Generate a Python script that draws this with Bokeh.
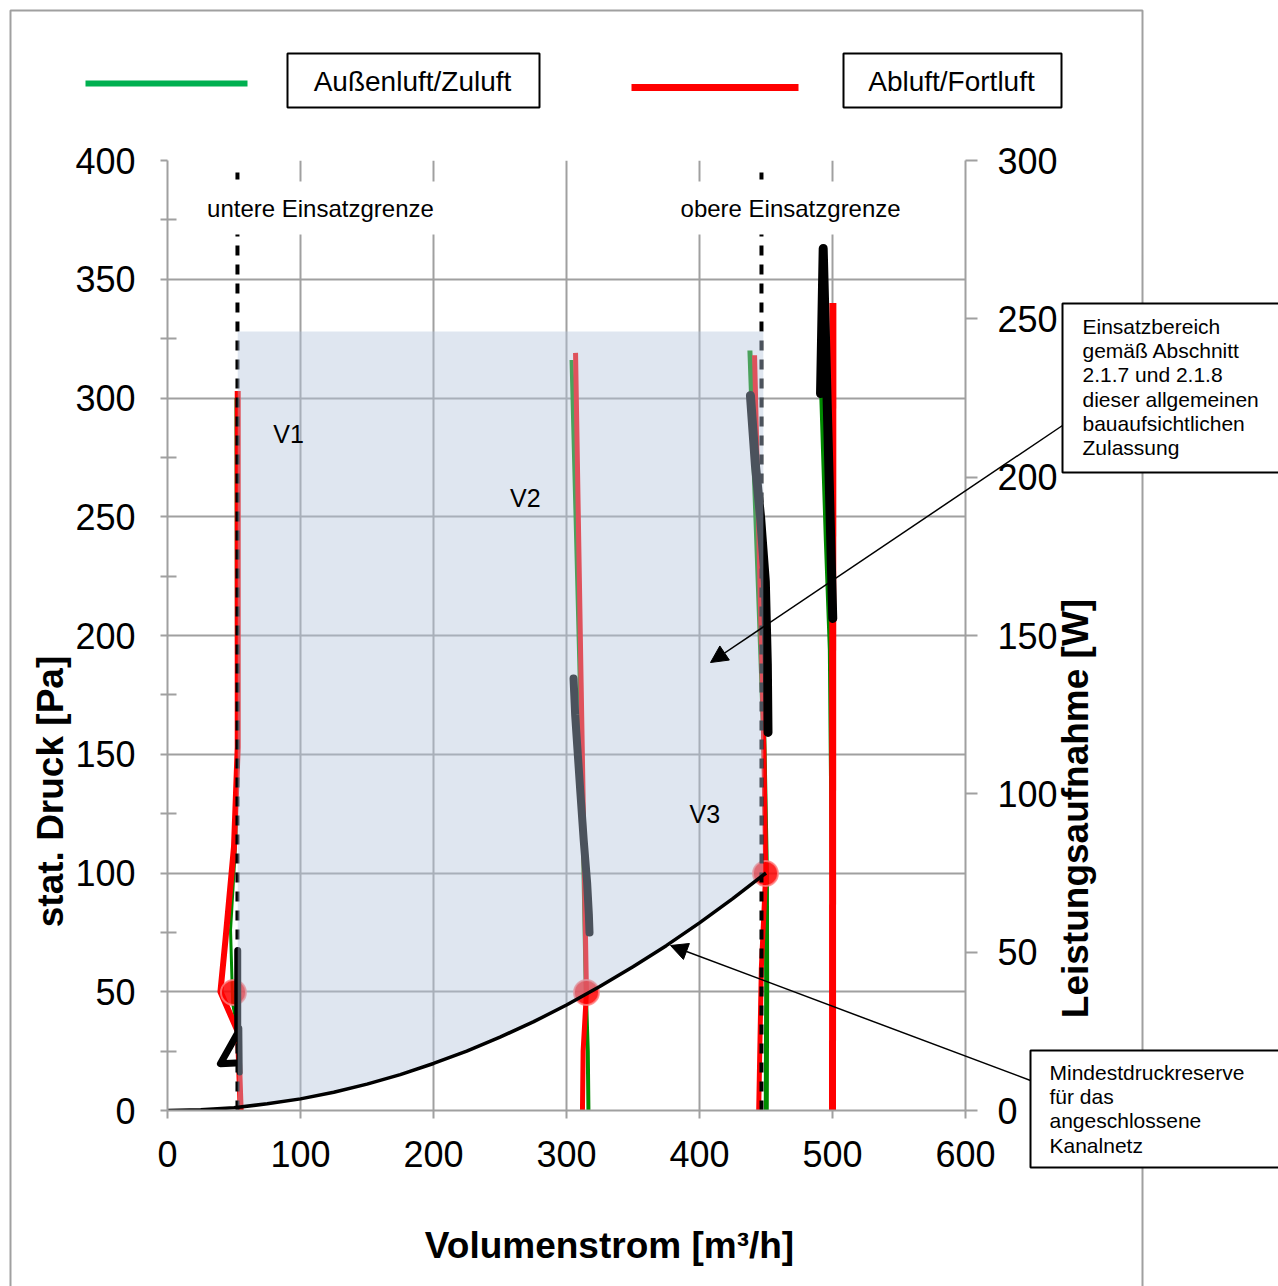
import numpy as np
from bokeh.plotting import figure
from bokeh.models import (Range1d, LinearAxis, FixedTicker, Label, Arrow,
                          NormalHead, GridBox, Column)
from bokeh.embed import file_html
from bokeh.resources import INLINE

# ---------------- data ----------------
x_ticks = [0, 100, 200, 300, 400, 500, 600]
p_ticks = [0, 50, 100, 150, 200, 250, 300, 350, 400]
p_minor = [25, 75, 125, 175, 225, 275, 325, 375]
w_ticks = [0, 50, 100, 150, 200, 250, 300]

# Mindestdruckreserve (system curve)
curve_x = [0, 25, 50, 75, 100, 125, 150, 175, 200, 225, 250, 275, 300,
           325, 350, 375, 400, 425, 450]
curve_y = [0, 0.3, 1.2, 2.8, 4.9, 7.7, 11.1, 15.1, 19.8, 25.0, 30.9, 37.3,
           44.4, 52.2, 60.5, 69.4, 79.0, 89.2, 100.0]

# Einsatzgrenzen
lower_limit = 52.6
upper_limit = 446.6
limit_top = 395
area_left, area_right, area_top = 52.8, 448.0, 328

# Außenluft/Zuluft (green), pressure [Pa]
v1_zu_x = [51.5, 52.0, 51.5, 47.4, 49.0, 52.3, 55.6]
v1_zu_y = [300, 150, 115, 76, 45, 35, 0]
v2_zu_x = [303.8, 310.0, 314.5, 316.0, 316.5]
v2_zu_y = [316, 180, 50, 25, 0]
v3_zu_x = [437.9, 448.4, 450.3, 450.5, 450.2]
v3_zu_y = [320, 156, 100, 50, 0]
v4_zu_x = [491.5, 495.0, 498.0, 499.5, 500.0]
v4_zu_y = [302, 240, 194, 100, 0]

# Abluft/Fortluft (red), pressure [Pa]
v1_ab_x = [52.8, 52.8, 50.0, 43.6, 39.8, 53.0, 55.0]
v1_ab_y = [303, 153, 111, 72, 50, 33, 0]
v2_ab_x = [306.8, 311.0, 315.0, 312.5, 312.0]
v2_ab_y = [319, 180, 50, 25, 0]
v3_ab_x = [441.4, 448.4, 449.8, 446.5, 445.5, 444.5]
v3_ab_y = [318, 152, 100, 60, 30, 0]
v4_ab_x = [500.3, 500.0]
v4_ab_y = [340, 0]

# Leistungsaufnahme [W] (black)
v1_w_x = [52.8, 52.8, 39.8, 51.3]
v1_w_y = [50.5, 24.5, 14.8, 15.0]
v1_w2_x = [54.0, 54.3]
v1_w2_y = [26.0, 12.0]
v2_w_x = [305.3, 306.5, 308.3, 310.5, 313.0, 315.5, 316.8, 317.3]
v2_w_y = [136.4, 125.0, 113.7, 100.0, 85.0, 72.0, 62.0, 56.2]
v3_w_x = [438.3, 442.0, 446.0, 449.5, 451.0, 451.5]
v3_w_y = [225.8, 204.0, 187.0, 167.0, 141.0, 119.4]
v4_w_x = [491.0, 493.0, 500.2]
v4_w_y = [226.4, 272.2, 155.4]

# Betriebspunkte
dot_x = [49.6, 315.0, 449.6]
dot_y = [49.7, 49.7, 99.8]

# ---------------- page layout (pixels) ----------------
W, H = 1278, 1286
FL, FR, FT, FB = 167, 965, 160, 1110

FONT = "Liberation Sans"
GRID = "#a0a0a0"

p = figure(width=W, height=H, x_range=Range1d(0, 600),
           y_range=Range1d(0, 400), output_backend="svg",
           toolbar_location=None, min_border_left=FL,
           min_border_right=W - FR, min_border_top=FT,
           min_border_bottom=H - FB)
p.outline_line_color = None
p.background_fill_color = "white"
p.border_fill_color = "white"
p.extra_y_ranges = {"power": Range1d(0, 300)}

ax_r = LinearAxis(y_range_name="power", ticker=FixedTicker(ticks=w_ticks))
p.add_layout(ax_r, "right")

ax_b = p.below[0]
ax_l = p.left[0]
ax_b.ticker = FixedTicker(ticks=x_ticks)
ax_l.ticker = FixedTicker(ticks=p_ticks, minor_ticks=p_minor)

for ax in (ax_b, ax_l, ax_r):
    ax.axis_line_color = GRID
    ax.axis_line_width = 2
    ax.major_tick_line_color = GRID
    ax.major_tick_line_width = 2
    ax.major_tick_in = 0
    ax.major_label_text_font = FONT
    ax.major_label_text_font_size = "36px"
    ax.major_label_text_color = "black"
    ax.minor_tick_line_color = None

ax_b.major_tick_out = 8
ax_b.major_label_standoff = 22
ax_l.major_tick_out = 7
ax_l.major_label_standoff = 25
ax_l.minor_tick_line_color = GRID
ax_l.minor_tick_line_width = 2
ax_l.minor_tick_in = 9
ax_l.minor_tick_out = 7
ax_r.major_tick_out = 12
ax_r.major_label_standoff = 20

p.xgrid.ticker = FixedTicker(ticks=x_ticks)
p.ygrid.ticker = FixedTicker(ticks=p_ticks)
for g in (p.xgrid[0], p.ygrid[0]):
    g.grid_line_color = GRID
    g.grid_line_width = 2

# ---------------- glyphs ----------------
GREEN = "#008a00"
RED = "#ff0000"
for xs, ys, w in ((v1_zu_x, v1_zu_y, 3), (v2_zu_x, v2_zu_y, 4),
                  (v3_zu_x, v3_zu_y, 5), (v4_zu_x, v4_zu_y, 4)):
    p.line(xs, ys, line_color=GREEN, line_width=w, line_join="round")
for xs, ys, w in ((v1_ab_x, v1_ab_y, 6), (v2_ab_x, v2_ab_y, 5),
                  (v3_ab_x, v3_ab_y, 5), (v4_ab_x, v4_ab_y, 7)):
    p.line(xs, ys, line_color=RED, line_width=w, line_join="round")

p.scatter(dot_x, dot_y, size=25, fill_color=RED, fill_alpha=0.85,
          line_color="#ff8080", line_width=2, line_alpha=0.8)

for xs, ys, w in ((v1_w_x, v1_w_y, 7), (v1_w2_x, v1_w2_y, 6),
                  (v2_w_x, v2_w_y, 8), (v3_w_x, v3_w_y, 9),
                  (v4_w_x, v4_w_y, 9)):
    p.line(xs, ys, y_range_name="power", line_color="black", line_width=w,
           line_cap="round", line_join="round")

for lx in (lower_limit, upper_limit):
    p.line([lx, lx], [0, limit_top], line_color="black", line_width=4,
           line_dash="10 9")

# Einsatzbereich (semi-transparent area on top)
cx = np.array(curve_x, dtype=float)
cy = np.array(curve_y, dtype=float)
inner = (cx > area_left) & (cx < area_right)
bx = [area_right] + list(cx[inner][::-1]) + [area_left]
by = [float(np.interp(area_right, cx, cy))] + list(cy[inner][::-1]) + \
     [float(np.interp(area_left, cx, cy))]
shade_x = [area_left, area_right] + bx
shade_y = [area_top, area_top] + by
p.patch(shade_x, shade_y, fill_color="#b3c4db", fill_alpha=0.42,
        line_color=None)

p.line(curve_x, curve_y, line_color="black", line_width=3.5)

# speed labels
for t, vx, vy in (("V1", 91, 285), ("V2", 269, 258), ("V3", 404, 125)):
    p.add_layout(Label(x=vx, y=vy, text=t, text_font=FONT,
                       text_font_size="25px", text_color="black",
                       text_align="center", text_baseline="middle"))

# limit labels
for t, lx in (("untere Einsatzgrenze", 115), ("obere  Einsatzgrenze", 471)):
    p.add_layout(Label(x=lx, y=380, text=t, text_font=FONT,
                       text_font_size="24px", text_color="black",
                       text_align="center", text_baseline="middle",
                       background_fill_color="white",
                       background_fill_alpha=1, padding=13))

# ---------------- overlay for everything outside the plot frame ----------------
q = figure(width=W, height=H, x_range=Range1d(0, W), y_range=Range1d(H, 0),
           output_backend="svg", toolbar_location=None, x_axis_type=None,
           y_axis_type=None, min_border=0)
q.grid.visible = False
q.outline_line_color = None
q.background_fill_alpha = 0
q.border_fill_alpha = 0

# outer frame
q.line([10, 10, 1142, 1142], [H + 5, 10, 10, H + 5], line_color=GRID,
       line_width=2)

# legend
q.line([85, 247], [83, 83], line_color="#00b050", line_width=6)
q.line([631, 798], [87, 87], line_color=RED, line_width=7)
q.quad(left=[287, 843], right=[539, 1061], top=[53, 53], bottom=[107, 107],
       fill_color="white", line_color="black", line_width=2)
for t, cxp in (("Außenluft/Zuluft", 412), ("Abluft/Fortluft", 951)):
    q.add_layout(Label(x=cxp, y=81, text=t, text_font=FONT,
                       text_font_size="28px", text_color="black",
                       text_align="center", text_baseline="middle"))

# pointer arrows
for xs, ys, xe, ye in ((1062, 425, 710, 662), (1030, 1080, 670, 945)):
    q.add_layout(Arrow(x_start=xs, y_start=ys, x_end=xe, y_end=ye,
                       line_color="black", line_width=1.5,
                       end=NormalHead(size=17, fill_color="black",
                                      line_color="black")))

# note boxes
q.quad(left=[1062, 1030], right=[W + 10, W + 10], top=[303, 1050],
       bottom=[472, 1167], fill_color="white", line_color="black",
       line_width=2)
q.add_layout(Label(x=1082, y=314,
                   text="Einsatzbereich\ngemäß Abschnitt\n2.1.7 und 2.1.8\n"
                        "dieser allgemeinen\nbauaufsichtlichen\nZulassung",
                   text_font=FONT, text_font_size="21px", text_color="black",
                   text_align="left", text_baseline="top",
                   text_line_height=1.06))
q.add_layout(Label(x=1049, y=1060,
                   text="Mindestdruckreserve\nfür das\nangeschlossene\n"
                        "Kanalnetz",
                   text_font=FONT, text_font_size="21px", text_color="black",
                   text_align="left", text_baseline="top",
                   text_line_height=1.06))

# axis titles
q.add_layout(Label(x=50, y=791, text="stat. Druck [Pa]", text_font=FONT,
                   text_font_size="37px", text_font_style="bold",
                   text_color="black", angle=np.pi / 2, text_align="center",
                   text_baseline="middle"))
q.add_layout(Label(x=609, y=1245, text="Volumenstrom [m³/h]", text_font=FONT,
                   text_font_size="37px", text_font_style="bold",
                   text_color="black", text_align="center",
                   text_baseline="middle"))
q.add_layout(Label(x=1075, y=808, text="Leistungsaufnahme [W]",
                   text_font=FONT, text_font_size="37px",
                   text_font_style="bold", text_color="black",
                   angle=np.pi / 2, text_align="center",
                   text_baseline="middle"))

layout = GridBox(children=[(p, 0, 0), (Column(children=[q]), 0, 0)])
open("out.html", "w").write(file_html(layout, INLINE))
